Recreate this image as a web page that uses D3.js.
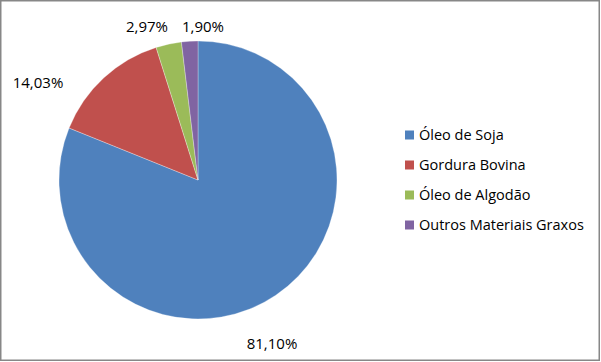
<!DOCTYPE html>
<html>
<head>
<meta charset="utf-8">
<script src="https://cdn.jsdelivr.net/npm/d3@7"></script>
<style>
  body { margin: 0; background: #fff; }
  svg { display: block; }
  text { font-family: "Open Sans", "Liberation Sans", sans-serif; fill: #000; }
</style>
</head>
<body>
<div id="chart"></div>
<script>
// data
var categories = ["Óleo de Soja", "Gordura Bovina", "Óleo de Algodão", "Outros Materiais Graxos"];
var shares = [81.10, 14.03, 2.97, 1.90];
var labels = ["81,10%", "14,03%", "2,97%", "1,90%"];
var colors = ["#4F81BD", "#C0504D", "#9BBB59", "#8064A2"];

// layout
var width = 601, height = 362;
var cx = 198, cy = 180, radius = 139;
// where Excel put the outside labels (centre of each label)
var labelSpots = [[272, 344], [38, 83], [147, 27], [203, 27]];

var svg = d3.select("#chart")
  .append("svg")
  .attr("width", width)
  .attr("height", height);

svg.append("rect")
  .attr("x", 0.75)
  .attr("y", 0.75)
  .attr("width", 598.5)
  .attr("height", 359.5)
  .attr("fill", "#fff")
  .attr("stroke", "#878787")
  .attr("stroke-width", 1.5);

var pie = d3.pie().sort(null).value(function(d) { return d; });
var arc = d3.arc().innerRadius(0).outerRadius(radius);

var pieGroup = svg.append("g")
  .attr("transform", `translate(${cx}, ${cy})`);

pieGroup.selectAll("path")
  .data(pie(shares))
  .enter()
  .append("path")
  .attr("d", arc)
  .attr("fill", function(d, i) { return colors[i]; })
  .attr("stroke", "#fff")
  .attr("stroke-width", 0.3);

svg.selectAll("text.pct")
  .data(labels)
  .enter()
  .append("text")
  .attr("class", "pct")
  .attr("x", function(d, i) { return labelSpots[i][0]; })
  .attr("y", function(d, i) { return labelSpots[i][1]; })
  .attr("dy", "0.35em")
  .attr("text-anchor", "middle")
  .style("font-size", "15px")
  .text(function(d) { return d; });

// legend
var legendY = d3.scalePoint()
  .domain(categories)
  .range([135, 225]);

var legend = svg.append("g");

var items = legend.selectAll("g")
  .data(categories)
  .enter()
  .append("g")
  .attr("transform", function(d) { return `translate(405, ${legendY(d)})`; });

items.append("rect")
  .attr("x", 0)
  .attr("y", -4.5)
  .attr("width", 9)
  .attr("height", 9)
  .attr("fill", function(d, i) { return colors[i]; });

items.append("text")
  .attr("x", 14)
  .attr("y", 0)
  .attr("dy", "0.35em")
  .style("font-size", "14.5px")
  .text(function(d) { return d; });
</script>
</body>
</html>
